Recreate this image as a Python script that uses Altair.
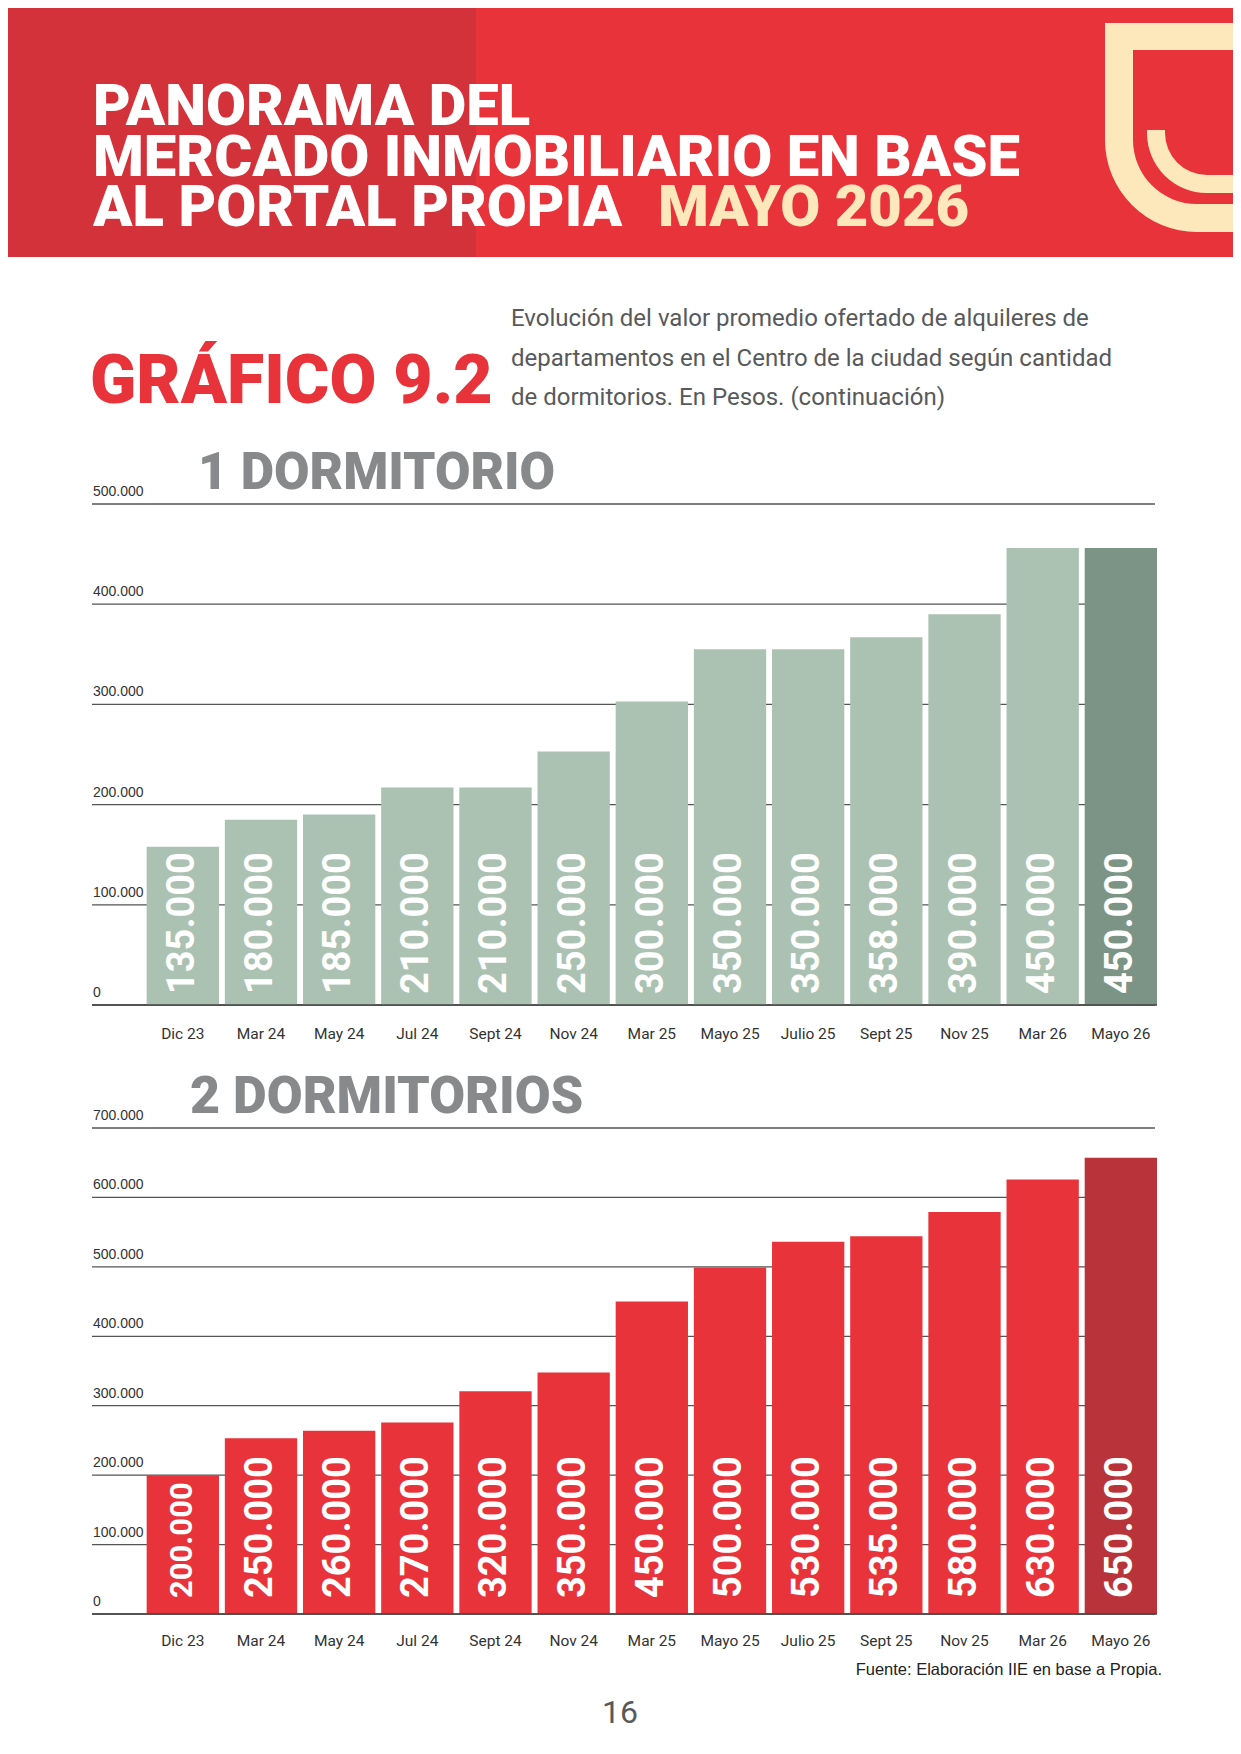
import math
import pandas as pd
import altair as alt

# Periodos (iguales para ambos gráficos)
periodos = ["Dic 23", "Mar 24", "May 24", "Jul 24", "Sept 24", "Nov 24", "Mar 25",
            "Mayo 25", "Julio 25", "Sept 25", "Nov 25", "Mar 26", "Mayo 26"]

valores_1d = [158000, 185000, 190000, 217000, 217000, 253000, 303000,
              355000, 355000, 367000, 390000, 456000, 456000]
etiquetas_1d = ["135.000", "180.000", "185.000", "210.000", "210.000", "250.000", "300.000",
                "350.000", "350.000", "358.000", "390.000", "450.000", "450.000"]

# 2 dormitorios
valores_2d = [200000, 253000, 264000, 276000, 321000, 348000, 450000,
              499000, 536000, 544000, 579000, 626000, 657000]
etiquetas_2d = ["200.000", "250.000", "260.000", "270.000", "320.000", "350.000", "450.000",
                "500.000", "530.000", "535.000", "580.000", "630.000", "650.000"]

ticks_1d = [0, 100000, 200000, 300000, 400000, 500000]
ticks_2d = [0, 100000, 200000, 300000, 400000, 500000, 600000, 700000]

titulo = ["PANORAMA DEL", "MERCADO INMOBILIARIO EN BASE", "AL PORTAL PROPIA"]
titulo_fecha = "MAYO 2026"
grafico = "GRÁFICO 9.2"
subtitulo = ["Evolución del valor promedio ofertado de alquileres de",
             "departamentos en el Centro de la ciudad según cantidad",
             "de dormitorios. En Pesos. (continuación)"]
seccion_1 = "1 DORMITORIO"
seccion_2 = "2 DORMITORIOS"
fuente = "Fuente: Elaboración IIE en base a Propia."
pagina = "16"

HEAVY = "Roboto"
REG = "Roboto"
ARIAL = "Liberation Sans, Arial, sans-serif"
ROJO = "#E9333A"
ROJO_OSC = "#D3323A"
CREMA = "#FDE8BC"
GRIS_T = "#87898B"

W = 1149
one = pd.DataFrame({"k": [0]})


def fmt(v):
    return f"{v:,}".replace(",", ".")


def caja(x, x2, y, y2, color):
    return alt.Chart(one).mark_rect(color=color).encode(
        x=alt.value(x), x2=alt.value(x2), y=alt.value(y), y2=alt.value(y2))


def texto(t, x, y, **kw):
    return alt.Chart(one).mark_text(text=t, align=kw.pop("align", "left"),
                                    baseline="alphabetic", **kw).encode(
        x=alt.value(x), y=alt.value(y))


# ---- encabezado
capas = [
    caja(0, 468, 0, 249, ROJO_OSC),
    caja(468, 1225, 0, 249, ROJO),
    # logo
    caja(1097, 1225, 15, 42, CREMA),
    caja(1097, 1125, 15, 133, CREMA),
    alt.Chart(one).mark_arc(theta=math.pi, theta2=1.5 * math.pi, radius=92, radius2=64,
                            color=CREMA).encode(x=alt.value(1189), y=alt.value(132)),
    caja(1188, 1225, 196, 224, CREMA),
    caja(1139, 1157, 122, 126, CREMA),
    alt.Chart(one).mark_arc(theta=math.pi, theta2=1.5 * math.pi, radius=60, radius2=42,
                            color=CREMA).encode(x=alt.value(1199), y=alt.value(125)),
    caja(1198, 1225, 167, 185, CREMA),
]
for t, yb in zip(titulo, [117, 168, 218]):
    capas.append(texto(t, 85, yb, font=HEAVY, fontWeight=900, fontSize=58, color="white"))
capas.append(texto(titulo_fecha, 650, 218, font=HEAVY, fontWeight=900, fontSize=58, color=CREMA))
capas.append(texto(grafico, 82, 395, font=HEAVY, fontWeight=900, fontSize=68, color=ROJO))
for t, yb in zip(subtitulo, [318, 358, 397]):
    capas.append(texto(t, 503, yb, font=REG, fontSize=24, color="#58595B"))
capas.append(texto(seccion_1, 190, 481, font=HEAVY, fontWeight=900, fontSize=51.5, color=GRIS_T))

encabezado = alt.layer(*capas).properties(width=1225, height=496)

separador = alt.layer(
    texto(seccion_2, 182, 108, font=HEAVY, fontWeight=900, fontSize=52, color=GRIS_T)
).properties(width=W, height=123)


def panel(valores, etiquetas, ticks, claro, oscuro, alto, dx_lab, pad_x, umbral, extra=()):
    df = pd.DataFrame({"periodo": periodos, "valor": valores, "etiqueta": etiquetas})
    dt = pd.DataFrame({"v": ticks, "lab": [fmt(t) for t in ticks]})
    esc_y = alt.Scale(domain=[0, max(ticks)], nice=False)
    x = alt.X("periodo:N", sort=periodos,
              scale=alt.Scale(paddingInner=0.075, paddingOuter=0.887, align=1),
              axis=alt.Axis(title=None, domain=False, ticks=False, labelAngle=0,
                            labelFont=REG, labelFontSize=15.5, labelColor="#333333",
                            labelPadding=pad_x, labelBaseline="alphabetic"))
    grilla = alt.Chart(dt).mark_rule(color="#555555", strokeWidth=1.3).encode(
        y=alt.Y("v:Q", scale=esc_y, axis=None), x=alt.value(84), x2=alt.value(1147))
    cero = alt.Chart(dt).transform_filter("datum.v == 0").mark_rule(
        color="#444444", strokeWidth=1.3).encode(
        y=alt.Y("v:Q", scale=esc_y, axis=None), x=alt.value(84), x2=alt.value(1149))
    etq_y = alt.Chart(dt).mark_text(align="left", baseline="alphabetic", dy=-8, font=ARIAL,
                                    fontSize=14, color="#333333").encode(
        y=alt.Y("v:Q", scale=esc_y, axis=None), x=alt.value(85), text="lab:N")
    barras = alt.Chart(df).mark_bar().encode(
        x=x, y=alt.Y("valor:Q", scale=esc_y, axis=None),
        color=alt.condition(alt.datum.periodo == "Mayo 26", alt.value(oscuro), alt.value(claro)))
    rotulos = alt.Chart(df).mark_text(angle=270, align="left", baseline="middle", dx=dx_lab,
                                      font=REG, fontWeight="bold",
                                      color="white").encode(
        x=x, y=alt.datum(0), text="etiqueta:N",
        size=alt.condition(f"datum.valor < {umbral}", alt.value(31), alt.value(38)))
    return alt.layer(grilla, etq_y, barras, cero, rotulos, *extra).properties(width=W, height=alto)


grafico_1 = panel(valores_1d, etiquetas_1d, ticks_1d, "#ABC2B3", "#7B9486", 501, 11, 33, 0)
grafico_2 = panel(valores_2d, etiquetas_2d, ticks_2d, ROJO, "#B8333A", 486, 16, 31, 210000, extra=(
    texto(fuente, 1154, 547, align="right", font=ARIAL, fontSize=16.5, color="#222222"),
    texto(pagina, 612, 595, align="center", font=REG, fontSize=32, color="#58595B"),
))

chart = alt.vconcat(encabezado, grafico_1, separador, grafico_2, spacing=0,
                    bounds="flush").properties(
    padding={"left": 0, "top": 0, "right": 0, "bottom": 8}).configure_view(strokeWidth=0)

chart.save("out.html", embed_options={"renderer": "svg", "actions": False})
